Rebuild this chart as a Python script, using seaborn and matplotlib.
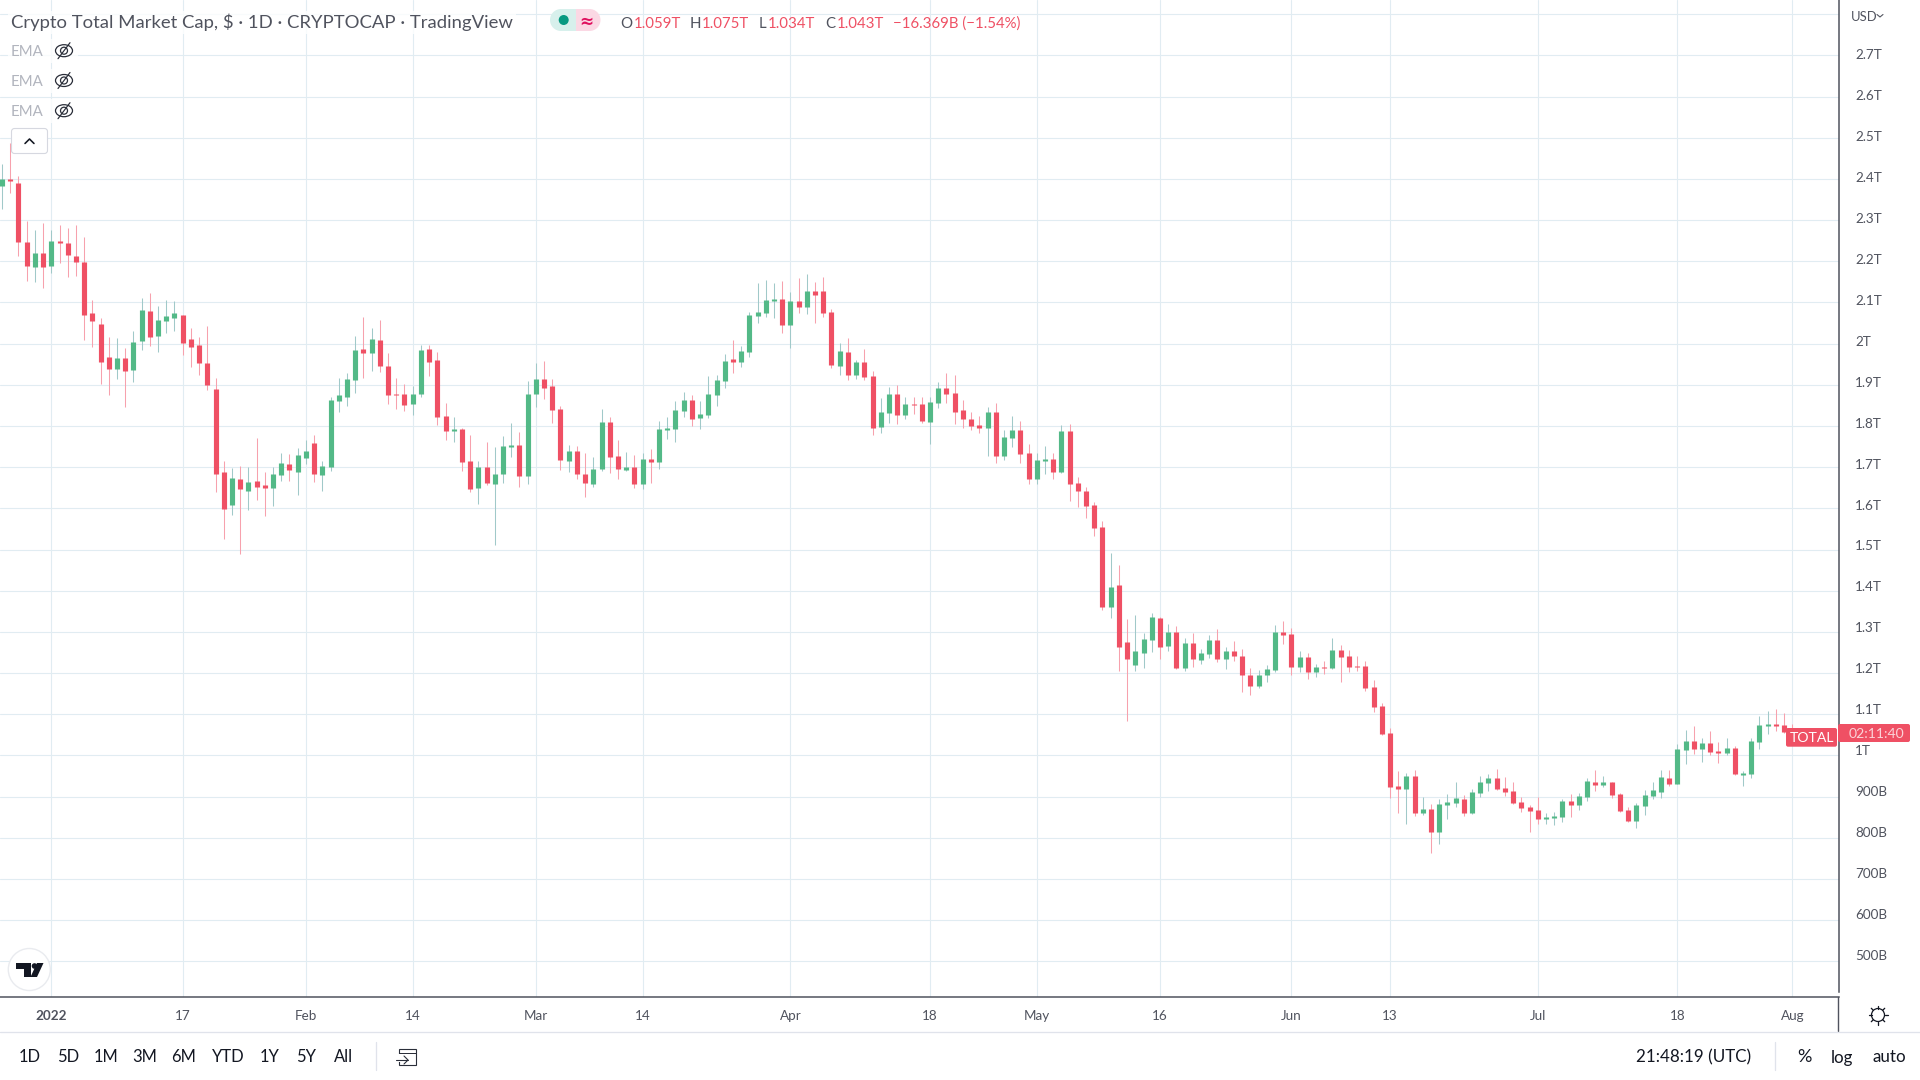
#!/usr/bin/env python3
# coding: utf-8

import numpy as np
import pandas as pd
import seaborn as sns
from matplotlib import pyplot as plt
from matplotlib.lines import Line2D
from matplotlib.patches import Circle, Ellipse, FancyBboxPatch, Polygon, Rectangle
from matplotlib.transforms import Affine2D, ScaledTranslation

W, H = 1920, 1080
FONT = "Lato"

RED = "#ef5064"
GREEN = "#53b987"
RED_WICK = "#f7a1ad"
GREEN_WICK = "#a0c9c9"
GRID = "#e1ecf2"
AXIS_LINE = "#50535e"
AXIS_TEXT = "#50535e"

# daily candles in trillions of USD, first value is 26 Dec 2021
first_day = -6
opens = [
    2.384, 2.401, 2.389, 2.248, 2.187, 2.219, 2.189, 2.250, 2.245, 2.214,
    2.199, 2.075, 2.048, 1.968, 1.939, 1.966, 1.936, 2.007, 2.080, 2.019,
    2.056, 2.063, 2.070, 2.012, 1.997, 1.953, 1.890, 1.688, 1.608, 1.671,
    1.642, 1.666, 1.657, 1.649, 1.681, 1.708, 1.688, 1.722, 1.759, 1.681,
    1.700, 1.861, 1.871, 1.912, 1.988, 1.978, 2.009, 1.946, 1.878, 1.878,
    1.854, 1.878, 1.988, 1.961, 1.825, 1.788, 1.793, 1.715, 1.649, 1.700,
    1.659, 1.683, 1.749, 1.754, 1.678, 1.878, 1.914, 1.897, 1.841, 1.715,
    1.739, 1.683, 1.659, 1.695, 1.810, 1.727, 1.693, 1.700, 1.659, 1.720,
    1.712, 1.790, 1.793, 1.836, 1.863, 1.819, 1.827, 1.875, 1.909, 1.963,
    1.955, 1.980, 2.067, 2.075, 2.104, 2.109, 2.045, 2.104, 2.089, 2.128,
    2.128, 2.077, 1.946, 1.980, 1.924, 1.955, 1.921, 1.797, 1.831, 1.878,
    1.827, 1.853, 1.853, 1.810, 1.856, 1.892, 1.881, 1.838, 1.818, 1.803,
    1.794, 1.835, 1.728, 1.772, 1.791, 1.735, 1.672, 1.716, 1.721, 1.689,
    1.789, 1.662, 1.643, 1.609, 1.555, 1.361, 1.414, 1.276, 1.220, 1.249,
    1.280, 1.334, 1.266, 1.300, 1.212, 1.273, 1.232, 1.246, 1.280, 1.234,
    1.254, 1.241, 1.195, 1.168, 1.195, 1.207, 1.300, 1.295, 1.215, 1.239,
    1.203, 1.215, 1.212, 1.256, 1.241, 1.217, 1.217, 1.166, 1.120, 1.054,
    0.925, 0.918, 0.950, 0.859, 0.869, 0.815, 0.879, 0.884, 0.894, 0.859,
    0.908, 0.933, 0.945, 0.920, 0.913, 0.886, 0.874, 0.867, 0.845, 0.847,
    0.850, 0.889, 0.879, 0.898, 0.935, 0.928, 0.935, 0.906, 0.867, 0.840,
    0.876, 0.901, 0.911, 0.945, 0.930, 1.013, 1.035, 1.015, 1.030, 1.010,
    1.006, 1.018, 0.952, 0.954, 1.033, 1.071, 1.076, 1.074, 1.059,
]
closes = [
    2.399, 2.396, 2.248, 2.189, 2.219, 2.185, 2.250, 2.245, 2.216, 2.199,
    2.070, 2.056, 1.956, 1.939, 1.966, 1.934, 2.005, 2.082, 2.017, 2.058,
    2.068, 2.075, 2.002, 1.992, 1.953, 1.900, 1.683, 1.598, 1.674, 1.647,
    1.664, 1.652, 1.649, 1.683, 1.710, 1.693, 1.730, 1.739, 1.683, 1.703,
    1.864, 1.876, 1.915, 1.985, 1.978, 2.012, 1.946, 1.876, 1.876, 1.851,
    1.878, 1.985, 1.956, 1.822, 1.788, 1.793, 1.713, 1.647, 1.700, 1.661,
    1.683, 1.751, 1.754, 1.678, 1.878, 1.914, 1.892, 1.839, 1.717, 1.739,
    1.683, 1.661, 1.695, 1.810, 1.725, 1.695, 1.700, 1.659, 1.720, 1.712,
    1.793, 1.795, 1.839, 1.863, 1.817, 1.829, 1.878, 1.912, 1.958, 1.955,
    1.982, 2.070, 2.077, 2.106, 2.109, 2.045, 2.104, 2.089, 2.128, 2.118,
    2.075, 1.948, 1.982, 1.924, 1.955, 1.919, 1.795, 1.834, 1.878, 1.827,
    1.853, 1.851, 1.812, 1.858, 1.892, 1.878, 1.835, 1.816, 1.801, 1.794,
    1.835, 1.728, 1.774, 1.791, 1.733, 1.672, 1.718, 1.721, 1.689, 1.789,
    1.660, 1.641, 1.606, 1.553, 1.361, 1.409, 1.263, 1.234, 1.254, 1.283,
    1.336, 1.263, 1.300, 1.212, 1.273, 1.234, 1.249, 1.280, 1.234, 1.254,
    1.241, 1.195, 1.168, 1.195, 1.210, 1.300, 1.293, 1.215, 1.239, 1.203,
    1.215, 1.212, 1.256, 1.239, 1.215, 1.215, 1.164, 1.117, 1.052, 0.923,
    0.918, 0.950, 0.859, 0.869, 0.815, 0.881, 0.886, 0.896, 0.859, 0.911,
    0.935, 0.945, 0.918, 0.911, 0.884, 0.871, 0.864, 0.845, 0.850, 0.852,
    0.889, 0.879, 0.901, 0.937, 0.928, 0.935, 0.903, 0.864, 0.840, 0.879,
    0.903, 0.915, 0.947, 0.930, 1.015, 1.035, 1.015, 1.030, 1.008, 1.006,
    1.018, 0.954, 0.957, 1.035, 1.074, 1.076, 1.071, 1.057, 1.043,
]
highs = [
    2.437, 2.488, 2.408, 2.299, 2.275, 2.292, 2.277, 2.287, 2.282, 2.287,
    2.260, 2.107, 2.063, 2.017, 2.014, 1.990, 2.031, 2.112, 2.124, 2.092,
    2.107, 2.104, 2.070, 2.039, 2.017, 2.043, 1.917, 1.715, 1.698, 1.703,
    1.700, 1.771, 1.688, 1.700, 1.734, 1.732, 1.747, 1.766, 1.778, 1.715,
    1.871, 1.917, 1.929, 2.019, 2.065, 2.039, 2.058, 1.978, 1.917, 1.902,
    1.897, 1.997, 1.997, 1.980, 1.856, 1.822, 1.795, 1.778, 1.715, 1.761,
    1.749, 1.776, 1.807, 1.785, 1.909, 1.953, 1.958, 1.914, 1.848, 1.754,
    1.751, 1.734, 1.725, 1.841, 1.822, 1.766, 1.737, 1.729, 1.734, 1.744,
    1.812, 1.822, 1.861, 1.883, 1.875, 1.861, 1.921, 1.924, 1.975, 2.009,
    1.994, 2.077, 2.147, 2.155, 2.147, 2.152, 2.126, 2.160, 2.169, 2.150,
    2.162, 2.084, 2.002, 2.014, 1.960, 1.987, 1.934, 1.868, 1.895, 1.900,
    1.870, 1.870, 1.870, 1.870, 1.907, 1.929, 1.925, 1.864, 1.833, 1.825,
    1.847, 1.855, 1.791, 1.825, 1.811, 1.757, 1.735, 1.752, 1.735, 1.803,
    1.806, 1.675, 1.653, 1.616, 1.570, 1.492, 1.463, 1.331, 1.341, 1.297,
    1.346, 1.336, 1.319, 1.314, 1.285, 1.297, 1.259, 1.293, 1.307, 1.263,
    1.278, 1.259, 1.212, 1.207, 1.220, 1.317, 1.327, 1.310, 1.254, 1.249,
    1.222, 1.229, 1.285, 1.268, 1.256, 1.241, 1.229, 1.183, 1.128, 1.067,
    0.962, 0.957, 0.964, 0.898, 0.881, 0.893, 0.906, 0.935, 0.903, 0.918,
    0.950, 0.954, 0.967, 0.947, 0.935, 0.898, 0.879, 0.898, 0.859, 0.862,
    0.893, 0.906, 0.908, 0.945, 0.964, 0.950, 0.935, 0.908, 0.874, 0.884,
    0.915, 0.935, 0.964, 0.964, 1.028, 1.062, 1.071, 1.042, 1.059, 1.032,
    1.042, 1.023, 0.962, 1.042, 1.096, 1.108, 1.113, 1.103, 1.075,
]
lows = [
    2.328, 2.367, 2.214, 2.153, 2.150, 2.136, 2.172, 2.197, 2.163, 2.165,
    2.009, 1.992, 1.902, 1.876, 1.914, 1.846, 1.907, 1.985, 1.995, 1.980,
    2.026, 2.031, 1.973, 1.944, 1.924, 1.888, 1.640, 1.525, 1.584, 1.489,
    1.596, 1.620, 1.581, 1.606, 1.666, 1.666, 1.632, 1.708, 1.664, 1.642,
    1.691, 1.834, 1.849, 1.880, 1.917, 1.934, 1.932, 1.854, 1.842, 1.837,
    1.827, 1.871, 1.922, 1.803, 1.766, 1.761, 1.691, 1.640, 1.610, 1.657,
    1.511, 1.661, 1.725, 1.652, 1.659, 1.846, 1.866, 1.807, 1.693, 1.688,
    1.671, 1.627, 1.652, 1.691, 1.686, 1.671, 1.691, 1.649, 1.647, 1.661,
    1.695, 1.768, 1.761, 1.822, 1.800, 1.793, 1.819, 1.849, 1.892, 1.929,
    1.943, 1.968, 2.050, 2.065, 2.062, 2.026, 1.989, 2.075, 2.072, 2.050,
    2.065, 1.941, 1.924, 1.912, 1.914, 1.912, 1.778, 1.783, 1.807, 1.805,
    1.817, 1.829, 1.807, 1.756, 1.844, 1.856, 1.806, 1.796, 1.791, 1.782,
    1.726, 1.709, 1.718, 1.750, 1.711, 1.660, 1.658, 1.684, 1.672, 1.687,
    1.619, 1.604, 1.577, 1.533, 1.353, 1.334, 1.205, 1.083, 1.205, 1.212,
    1.251, 1.234, 1.254, 1.210, 1.205, 1.215, 1.222, 1.237, 1.227, 1.210,
    1.229, 1.154, 1.147, 1.164, 1.178, 1.203, 1.271, 1.195, 1.203, 1.186,
    1.190, 1.198, 1.210, 1.178, 1.203, 1.205, 1.156, 1.105, 1.050, 0.896,
    0.859, 0.833, 0.852, 0.854, 0.762, 0.784, 0.845, 0.874, 0.852, 0.858,
    0.898, 0.913, 0.917, 0.901, 0.881, 0.862, 0.815, 0.833, 0.833, 0.830,
    0.837, 0.850, 0.867, 0.889, 0.913, 0.923, 0.896, 0.862, 0.837, 0.823,
    0.854, 0.893, 0.896, 0.925, 0.930, 0.979, 1.003, 0.984, 1.001, 0.981,
    1.001, 0.952, 0.925, 0.945, 1.015, 1.052, 1.059, 1.054, 1.034,
]

# days since 1 Jan 2022
x_ticks = [0, 16, 31, 44, 59, 72, 90, 107, 120, 135, 151, 163, 181, 198, 212]
x_labels = ["2022", "17", "Feb", "14", "Mar", "14", "Apr", "18", "May", "16",
            "Jun", "13", "Jul", "18", "Aug"]
y_ticks = [2.7, 2.6, 2.5, 2.4, 2.3, 2.2, 2.1, 2.0, 1.9, 1.8, 1.7, 1.6, 1.5,
           1.4, 1.3, 1.2, 1.1, 1.0, 0.9, 0.8, 0.7, 0.6, 0.5]
y_labels = ["2.7T", "2.6T", "2.5T", "2.4T", "2.3T", "2.2T", "2.1T", "2T",
            "1.9T", "1.8T", "1.7T", "1.6T", "1.5T", "1.4T", "1.3T", "1.2T",
            "1.1T", "1T", "900B", "800B", "700B", "600B", "500B"]
range_buttons = ["1D", "5D", "1M", "3M", "6M", "YTD", "1Y", "5Y", "All"]


def px_size(px):
    return px * 0.72


sns.set_theme(style="whitegrid", rc={
    "grid.color": GRID,
    "grid.linewidth": 0.8,
    "axes.edgecolor": AXIS_LINE,
    "axes.linewidth": 1.1,
})
plt.rcParams["font.family"] = [FONT, "DejaVu Sans"]

fig = plt.figure(figsize=(W / 100, H / 100), dpi=100, facecolor="white")
# pixel coordinates, origin top left
pix = Affine2D().scale(1, -1).translate(0, H)

ax = fig.add_axes([0, 1 - 997 / H, 1838.5 / W, 997 / H])

days = np.arange(first_day, first_day + len(opens))
candles = pd.DataFrame({"day": days, "open": opens, "close": closes,
                        "high": highs, "low": lows})
candles["direction"] = np.where(candles["close"] >= candles["open"], "up", "down")

wicks = candles.melt(id_vars=["day", "direction"], value_vars=["high", "low"],
                     value_name="price")
bodies = candles.melt(id_vars=["day", "direction"], value_vars=["open", "close"],
                      value_name="price")

sns.lineplot(data=wicks, x="day", y="price", hue="direction", units="day",
             estimator=None, sort=False, legend=False, ax=ax,
             palette={"up": GREEN_WICK, "down": RED_WICK},
             linewidth=0.75, solid_capstyle="butt")
sns.lineplot(data=bodies, x="day", y="price", hue="direction", units="day",
             estimator=None, sort=False, legend=False, ax=ax,
             palette={"up": GREEN, "down": RED},
             linewidth=3.7, solid_capstyle="butt")

ax.set_xlim(-6.247, 217.62)
ax.set_ylim(0.4131, 2.8347)
ax.set_xlabel("")
ax.set_ylabel("")
ax.set_xticks(x_ticks, x_labels)
ax.set_yticks([2.8] + y_ticks, [""] + y_labels)
ax.yaxis.tick_right()
ax.tick_params(axis="x", length=0, pad=9, labelsize=px_size(13.5), labelcolor=AXIS_TEXT)
ax.tick_params(axis="y", length=0, pad=12, labelsize=px_size(13.5), labelcolor=AXIS_TEXT)
ax.spines["top"].set_visible(False)
ax.spines["left"].set_visible(False)
ax.spines["right"].set_bounds(0.4255, 2.8347)

ax.get_xticklabels()[0].set_fontweight("bold")

# price labels sit a little above their grid lines, more so further down
for value, label in zip([2.8] + y_ticks, ax.get_yticklabels()):
    shift = (1 + 4.3 * (2.7 - value) / 1.7) * 0.72 / 72
    label.set_transform(label.get_transform()
                        + ScaledTranslation(0, shift, fig.dpi_scale_trans))


def ui_text(x, y, text, size=14, color="#131722", ha="left", **kwargs):
    return fig.text(x, y, text, transform=pix, fontsize=px_size(size), color=color,
                    ha=ha, va="center_baseline", **kwargs)


def ui_line(xs, ys, color, width=1.0, **kwargs):
    fig.add_artist(Line2D(xs, ys, transform=pix, color=color, linewidth=width * 0.72,
                          **kwargs))


def ui_patch(patch):
    patch.set_transform(pix)
    fig.add_artist(patch)


# legend row
ui_text(11, 21, "Crypto Total Market Cap, $ · 1D · CRYPTOCAP · TradingView",
        size=18.5, color="#50535e",
        bbox=dict(facecolor="white", alpha=0.8, edgecolor="none", pad=2))
ui_patch(FancyBboxPatch((561, 9), 28, 22, boxstyle="round,pad=0,rounding_size=0",
                        facecolor="white", edgecolor="none"))
ui_patch(FancyBboxPatch((561, 9), 14.5, 22, boxstyle="square,pad=0",
                        facecolor="#d7f0ec", edgecolor="none"))
ui_patch(FancyBboxPatch((575.5, 9), 14, 22, boxstyle="square,pad=0",
                        facecolor="#fbd8e4", edgecolor="none"))
ui_patch(Ellipse((561, 20), 22, 22, facecolor="#d7f0ec", edgecolor="none"))
ui_patch(Ellipse((589.5, 20), 22, 22, facecolor="#fbd8e4", edgecolor="none"))
ui_patch(Circle((563.7, 20), 5, facecolor="#089981", edgecolor="none"))
ui_text(586, 20, "≈", size=17, color="#e0115f", ha="center", fontweight="bold",
        family="DejaVu Sans")

ohlc_parts = [
    (620.7, "O", AXIS_TEXT), (634, "1.059T", RED),
    (690, "H", AXIS_TEXT), (701.7, "1.075T", RED),
    (759, "L", AXIS_TEXT), (768, "1.034T", RED),
    (825, "C", AXIS_TEXT), (836.7, "1.043T", RED),
    (893, "−16.369B (−1.54%)", RED),
]
for x, text, color in ohlc_parts:
    ui_text(x, 22, text, size=15, color=color)

for y in [50.7, 80.5, 110.7]:
    ui_patch(Rectangle((8, y - 12), 70, 24, facecolor="white", edgecolor="none", alpha=0.8))
    ui_text(11, y, "EMA", size=15, color="#b2b5be")
    ui_patch(Ellipse((64, y), 17, 12, facecolor="none", edgecolor="#2a2e39", linewidth=0.9))
    ui_patch(Circle((64, y), 3.5, facecolor="none", edgecolor="#2a2e39", linewidth=0.9))
    ui_line([58, 70], [y + 8, y - 8], "#2a2e39", 1.2)

ui_patch(FancyBboxPatch((11.5, 128.5), 36, 25, boxstyle="round,pad=0,rounding_size=3",
                        facecolor="white", edgecolor="#d6d8e0", linewidth=0.8))
ui_line([25, 29.5, 34], [143.5, 139, 143.5], "#131722", 1.6)

# logo bottom left
ui_patch(Circle((29.3, 969.5), 21, facecolor="white", edgecolor="#e9ebef", linewidth=1))
ui_patch(Polygon([(16, 963), (31, 963), (31, 977), (24, 977), (24, 969), (16, 969)],
                 facecolor="#131722", edgecolor="none"))
ui_patch(Circle((34.5, 966), 2.8, facecolor="#131722", edgecolor="none"))
ui_patch(Polygon([(37, 963), (43.5, 963), (37, 977), (30.5, 977)],
                 facecolor="#131722", edgecolor="none"))

# last price labels
ui_patch(FancyBboxPatch((1786, 728), 51, 18.7, boxstyle="round,pad=0,rounding_size=2",
                        facecolor=RED, edgecolor="none", zorder=5))
ui_text(1811.5, 737.5, "TOTAL", size=14, color="white", ha="center", zorder=6)
ui_patch(FancyBboxPatch((1838, 724), 72, 18, boxstyle="round,pad=0,rounding_size=2",
                        facecolor=RED, edgecolor="none", zorder=5))
ui_text(1876.5, 733, "02:11:40", size=14, color="#fbd3d8", ha="center", zorder=6)

# top right currency
ui_text(1850.5, 16, "USD", size=13, color=AXIS_TEXT)
ui_line([1877, 1880, 1883], [14.5, 17, 14.5], AXIS_TEXT, 1.1)

# time axis and toolbar chrome
ui_line([1838.3, 1838.3], [997, 1031], AXIS_LINE, 1.4)
ui_line([0, W], [1031.5, 1031.5], "#e0e3eb", 1.3)

gear_x, gear_y = 1878, 1015
ui_patch(Circle((gear_x, gear_y), 6.5, facecolor="none", edgecolor="#131722", linewidth=0.9))
for angle in np.deg2rad(np.arange(0, 360, 45)):
    ui_line([gear_x + 6.5 * np.cos(angle), gear_x + 9.5 * np.cos(angle)],
            [gear_y + 6.5 * np.sin(angle), gear_y + 9.5 * np.sin(angle)], "#131722", 1.3)

button_centers = [30, 68, 106, 145, 184, 228, 270, 306, 344]
for x, text in zip(button_centers, range_buttons):
    ui_text(x, 1056, text, size=16.5, ha="center")
ui_line([375.5, 375.5], [1042, 1070], "#e0e3eb", 1.3)

# go-to-date calendar icon
ui_patch(Rectangle((399, 1049), 17, 16, facecolor="none", edgecolor="#2a2e39", linewidth=0.8))
ui_line([399, 416], [1053, 1053], "#2a2e39", 1.0)
ui_patch(Rectangle((395, 1054), 7, 8, facecolor="white", edgecolor="none"))
ui_line([396, 408], [1060, 1060], "#2a2e39", 1.1)
ui_line([404, 408, 404], [1056, 1060, 1064], "#2a2e39", 1.1)

ui_text(1636.5, 1056, "21:48:19 (UTC)", size=17)
ui_line([1774.5, 1774.5], [1042, 1070], "#e0e3eb", 1.3)
ui_text(1804, 1056, "%", size=18, ha="center")
ui_text(1842, 1056, "log", size=17, ha="center")
ui_text(1889, 1056, "auto", size=17, ha="center")

fig.savefig("out.png", dpi=100, facecolor="white")
